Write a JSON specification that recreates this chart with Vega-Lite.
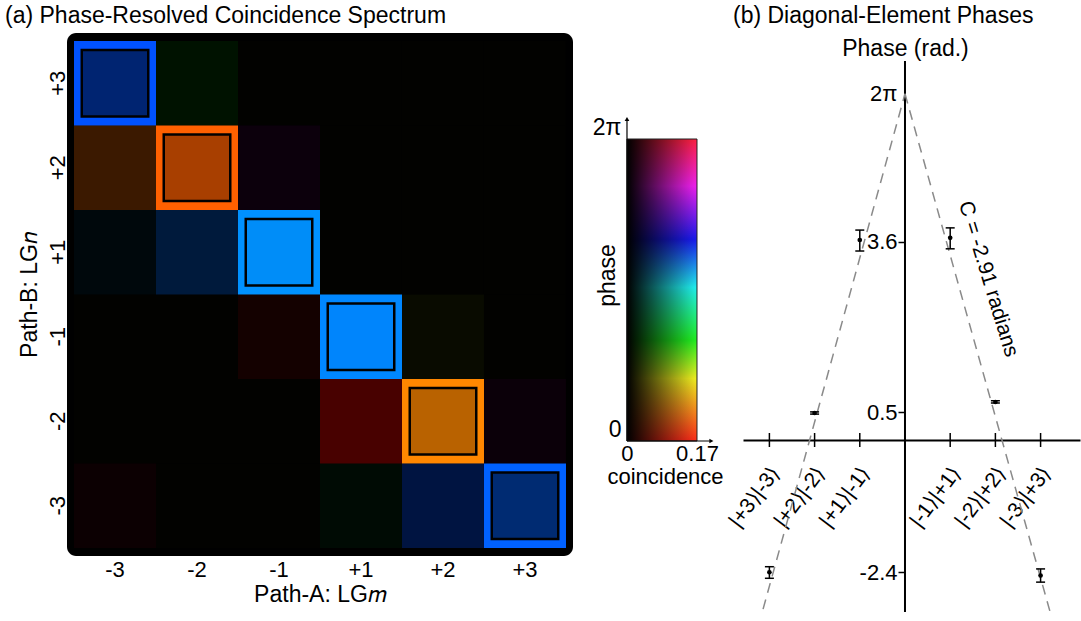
{
  "$schema": "https://vega.github.io/schema/vega-lite/v6.json",
  "background": "white",
  "padding": {"left": 5, "top": 5, "right": 1, "bottom": 2},
  "bounds": "flush",
  "spacing": 0,
  "config": {
    "font": "Liberation Sans",
    "view": {"stroke": null},
    "axis": {"grid": false, "labelColor": "black", "titleColor": "black", "labelFontWeight": "normal", "titleFontWeight": "normal"},
    "title": {"color": "black", "fontWeight": "normal", "fontSize": 23}
  },
  "datasets": {
    "cells": [
      {"m": -3, "n": 3, "phase": 3.88, "coinc": 0.075},
      {"m": -2, "n": 3, "phase": 2.1, "coinc": 0.012},
      {"m": -1, "n": 3, "phase": 1.0, "coinc": 0.001},
      {"m": 1, "n": 3, "phase": 1.0, "coinc": 0.001},
      {"m": 2, "n": 3, "phase": 1.0, "coinc": 0.001},
      {"m": 3, "n": 3, "phase": 1.0, "coinc": 0.001},
      {"m": -3, "n": 2, "phase": 0.54, "coinc": 0.039},
      {"m": -2, "n": 2, "phase": 0.49, "coinc": 0.112},
      {"m": -1, "n": 2, "phase": 5.3, "coinc": 0.008},
      {"m": 1, "n": 2, "phase": 1.0, "coinc": 0.001},
      {"m": 2, "n": 2, "phase": 1.0, "coinc": 0.001},
      {"m": 3, "n": 2, "phase": 1.0, "coinc": 0.001},
      {"m": -3, "n": 1, "phase": 3.53, "coinc": 0.008},
      {"m": -2, "n": 1, "phase": 3.77, "coinc": 0.04},
      {"m": -1, "n": 1, "phase": 3.63, "coinc": 0.165},
      {"m": 1, "n": 1, "phase": 1.0, "coinc": 0.001},
      {"m": 2, "n": 1, "phase": 1.0, "coinc": 0.001},
      {"m": 3, "n": 1, "phase": 1.0, "coinc": 0.001},
      {"m": -3, "n": -1, "phase": 1.0, "coinc": 0.001},
      {"m": -2, "n": -1, "phase": 1.0, "coinc": 0.001},
      {"m": -1, "n": -1, "phase": 0.05, "coinc": 0.013},
      {"m": 1, "n": -1, "phase": 3.67, "coinc": 0.168},
      {"m": 2, "n": -1, "phase": 1.46, "coinc": 0.007},
      {"m": 3, "n": -1, "phase": 1.0, "coinc": 0.001},
      {"m": -3, "n": -2, "phase": 1.0, "coinc": 0.001},
      {"m": -2, "n": -2, "phase": 1.0, "coinc": 0.001},
      {"m": -1, "n": -2, "phase": 1.0, "coinc": 0.001},
      {"m": 1, "n": -2, "phase": 0.02, "coinc": 0.048},
      {"m": 2, "n": -2, "phase": 0.69, "coinc": 0.123},
      {"m": 3, "n": -2, "phase": 5.5, "coinc": 0.007},
      {"m": -3, "n": -3, "phase": 6.1, "coinc": 0.008},
      {"m": -2, "n": -3, "phase": 1.0, "coinc": 0.001},
      {"m": -1, "n": -3, "phase": 1.0, "coinc": 0.001},
      {"m": 1, "n": -3, "phase": 2.54, "coinc": 0.007},
      {"m": 2, "n": -3, "phase": 3.89, "coinc": 0.043},
      {"m": 3, "n": -3, "phase": 3.82, "coinc": 0.076}
    ],
    "cbar": [{"c0": 0, "c1": 0.17, "p0": 0, "p1": 6.2832}],
    "phases": [
      {"kind": "line", "side": "L", "x": 0, "y": 6.2832},
      {"kind": "line", "side": "L", "x": -3.14, "y": -3.07},
      {"kind": "line", "side": "R", "x": 0, "y": 6.2832},
      {"kind": "line", "side": "R", "x": 3.21, "y": -3.12},
      {"kind": "pt", "x": -3, "y": -2.4, "lo": -2.51, "hi": -2.3},
      {"kind": "pt", "x": -2, "y": 0.49, "lo": 0.47, "hi": 0.51},
      {"kind": "pt", "x": -1, "y": 3.63, "lo": 3.43, "hi": 3.81},
      {"kind": "pt", "x": 1, "y": 3.67, "lo": 3.47, "hi": 3.85},
      {"kind": "pt", "x": 2, "y": 0.69, "lo": 0.67, "hi": 0.71},
      {"kind": "pt", "x": 3, "y": -2.46, "lo": -2.58, "hi": -2.34},
      {"kind": "label", "x": 1.84, "y": 2.92, "label": "C = -2.91 radians"}
    ]
  },
  "hconcat": [
    {
      "width": 506,
      "height": 523,
      "view": {"fill": "black", "stroke": null, "cornerRadius": 9},
      "title": {"text": "(a) Phase-Resolved Coincidence Spectrum", "anchor": "start", "frame": "group", "dx": -62, "offset": -18, "baseline": "bottom"},
      "data": {"name": "cells"},
      "encoding": {
        "x": {"field": "m", "type": "ordinal", "scale": {"paddingInner": 0, "paddingOuter": 0.0854},
          "axis": {"title": "Path-A: LG𝑚", "labelExpr": "datum.value > 0 ? '+' + datum.value : '' + datum.value", "labelAngle": 0, "domain": false, "ticks": false, "labelFontSize": 22, "labelPadding": 3, "titleFontSize": 23, "titlePadding": 3}},
        "y": {"field": "n", "type": "ordinal", "sort": "descending", "scale": {"paddingInner": 0, "paddingOuter": 0.0947},
          "axis": {"title": "Path-B: LG𝑛", "labelExpr": "datum.value > 0 ? '+' + datum.value : '' + datum.value", "labelAngle": 270, "labelAlign": "center", "labelBaseline": "alphabetic", "domain": false, "ticks": false, "labelFontSize": 22, "labelPadding": 3, "titleFontSize": 23, "titlePadding": 5}}
      },
      "layer": [
        {
          "mark": {"type": "rect"},
          "encoding": {
            "color": {"field": "phase", "type": "quantitative", "legend": null,
              "scale": {"type": "linear", "domain": [0, 1.3, 2.1, 3.2, 4.2, 5.3, 6.2832], "range": ["#ff0000", "#ffff00", "#00ff00", "#00ffff", "#0000ff", "#ff00ff", "#ff0000"], "interpolate": "rgb"}},
            "opacity": {"condition": {"test": "datum.m == -datum.n", "value": 1}, "field": "coinc", "type": "quantitative", "legend": null, "scale": {"domain": [0, 0.17], "range": [0, 1]}}
          }
        },
        {
          "transform": [{"filter": "datum.m == -datum.n"}],
          "mark": {"type": "point", "shape": "square", "filled": true, "color": "black", "size": 4761, "opacity": 1}
        },
        {
          "transform": [{"filter": "datum.m == -datum.n"}],
          "mark": {"type": "point", "shape": "square", "filled": true, "size": 4096},
          "encoding": {
            "color": {"field": "phase", "type": "quantitative", "legend": null,
              "scale": {"type": "linear", "domain": [0, 1.3, 2.1, 3.2, 4.2, 5.3, 6.2832], "range": ["#ff0000", "#ffff00", "#00ff00", "#00ffff", "#0000ff", "#ff00ff", "#ff0000"], "interpolate": "rgb"}},
            "opacity": {"field": "coinc", "type": "quantitative", "legend": null, "scale": {"domain": [0, 0.17], "range": [0, 1]}}
          }
        }
      ]
    },
    {
      "width": 170,
      "height": 408,
      "data": {"name": "cbar"},
      "encoding": {
        "x": {"field": "c0", "type": "quantitative", "scale": {"domain": [-0.1311, 0.2817], "nice": false, "zero": false},
          "axis": {"values": [0, 0.17], "labelExpr": "datum.value == 0 ? '0' : '0.17'", "domain": false, "ticks": false, "labelFontSize": 22, "labelPadding": 2, "labelFlush": false, "labelOverlap": false, "title": "coincidence", "titleFontSize": 22, "titlePadding": 2, "titleX": 92}},
        "y": {"field": "p0", "type": "quantitative", "scale": {"domain": [0, 8.489], "nice": false, "zero": false},
          "axis": {"values": [0, 6.2832], "labelExpr": "datum.value > 1 ? '2π' : '0'", "offset": -50, "domain": false, "ticks": false, "labelFontSize": 23, "labelPadding": 2, "labelBaseline": "bottom", "labelFlush": false, "labelOverlap": false, "title": "phase", "titleFontSize": 23, "titleX": -16, "titleY": 242, "titleAngle": 270, "titleAlign": "center", "titleBaseline": "middle"}}
      },
      "layer": [
        {
          "mark": {"type": "rect", "fill": {"gradient": "linear", "x1": 0, "y1": 1, "x2": 0, "y2": 0, "stops": [
            {"offset": 0, "color": "#ff2a1a"},
            {"offset": 0.207, "color": "#f0f020"},
            {"offset": 0.334, "color": "#20f020"},
            {"offset": 0.509, "color": "#20f0f0"},
            {"offset": 0.668, "color": "#1a1af0"},
            {"offset": 0.844, "color": "#f020f0"},
            {"offset": 1, "color": "#ff2040"}]}},
          "encoding": {"x2": {"field": "c1"}, "y2": {"field": "p1"}}
        },
        {
          "mark": {"type": "rect", "stroke": "#222222", "strokeWidth": 1, "fill": {"gradient": "linear", "x1": 0, "y1": 0, "x2": 1, "y2": 0, "stops": [
            {"offset": 0, "color": "rgba(0,0,0,1)"},
            {"offset": 1, "color": "rgba(0,0,0,0)"}]}},
          "encoding": {"x2": {"field": "c1"}, "y2": {"field": "p1"}}
        },
        {
          "mark": {"type": "rule", "color": "black", "strokeWidth": 1.2},
          "encoding": {"x": {"datum": 0}, "y": {"datum": 0}, "y2": {"datum": 6.7}}
        },
        {
          "mark": {"type": "rule", "color": "black", "strokeWidth": 1.2},
          "encoding": {"x": {"datum": 0}, "x2": {"datum": 0.205}, "y": {"datum": 0}}
        },
        {
          "mark": {"type": "point", "shape": "triangle-up", "filled": true, "color": "black", "size": 22, "opacity": 1},
          "encoding": {"x": {"datum": 0}, "y": {"datum": 6.7}}
        },
        {
          "mark": {"type": "point", "shape": "triangle-right", "filled": true, "color": "black", "size": 22, "opacity": 1},
          "encoding": {"x": {"datum": 0.205}, "y": {"datum": 0}}
        }
      ]
    },
    {
      "width": 337,
      "height": 579,
      "title": {"text": "(b) Diagonal-Element Phases", "anchor": "start", "frame": "group", "dx": -10, "offset": -18, "baseline": "bottom"},
      "data": {"name": "phases"},
      "encoding": {
        "x": {"field": "x", "type": "quantitative", "scale": {"domain": [-3.584, 3.872], "nice": false, "zero": false},
          "axis": {"orient": "bottom", "offset": -172, "values": [-3, -2, -1, 1, 2, 3],
            "labelExpr": "datum.value == -3 ? '|+3⟩|-3⟩' : datum.value == -2 ? '|+2⟩|-2⟩' : datum.value == -1 ? '|+1⟩|-1⟩' : datum.value == 1 ? '|-1⟩|+1⟩' : datum.value == 2 ? '|-2⟩|+2⟩' : '|-3⟩|+3⟩'",
            "labelAngle": -53, "labelAlign": "right", "labelBaseline": "middle", "labelPadding": 29, "labelOffset": 6, "labelFontSize": 21, "labelOverlap": false, "labelFlush": false,
            "ticks": false, "domain": true, "domainColor": "black", "domainWidth": 2, "title": null}},
        "y": {"field": "y", "type": "quantitative", "scale": {"domain": [-3.122, 7.387], "nice": false, "zero": false},
          "axis": {"orient": "left", "offset": -162, "values": [-2.4, 0.5, 3.6, 6.2832],
            "labelExpr": "datum.value > 6 ? '2π' : datum.value > 3 ? '3.6' : datum.value > 0 ? '0.5' : '-2.4'",
            "domain": false, "ticks": true, "tickSize": 7, "tickColor": "black", "tickWidth": 1.5,
            "tickOpacity": {"condition": {"test": "datum.value > 6", "value": 0}, "value": 1},
            "labelFontSize": 22, "labelPadding": 1, "labelOverlap": false, "labelFlush": false,
            "title": "Phase (rad.)", "titleAngle": 0, "titleAlign": "center", "titleBaseline": "middle", "titleX": 0, "titleY": 15, "titleFontSize": 23}}
      },
      "layer": [
        {
          "transform": [{"filter": "datum.kind == 'label'"}],
          "mark": {"type": "rule", "color": "black", "strokeWidth": 2},
          "encoding": {"x": {"datum": 0}, "y": {"datum": -3.122}, "y2": {"datum": 6.88}}
        },
        {
          "transform": [{"filter": "datum.kind == 'line'"}],
          "mark": {"type": "line", "color": "#8a8a8a", "strokeWidth": 1.5, "strokeDash": [10, 7]},
          "encoding": {"detail": {"field": "side", "type": "nominal"}}
        },
        {
          "transform": [{"filter": "datum.kind == 'pt'"}],
          "mark": {"type": "tick", "orient": "vertical", "color": "black", "size": 14, "thickness": 1.5, "opacity": 1},
          "encoding": {"y": {"datum": 0}}
        },
        {
          "transform": [{"filter": "datum.kind == 'pt'"}],
          "mark": {"type": "rule", "color": "black", "strokeWidth": 1.5},
          "encoding": {"y": {"field": "lo", "type": "quantitative"}, "y2": {"field": "hi"}}
        },
        {
          "transform": [{"filter": "datum.kind == 'pt'"}],
          "mark": {"type": "tick", "orient": "horizontal", "color": "black", "size": 9, "thickness": 1.5, "opacity": 1},
          "encoding": {"y": {"field": "lo", "type": "quantitative"}}
        },
        {
          "transform": [{"filter": "datum.kind == 'pt'"}],
          "mark": {"type": "tick", "orient": "horizontal", "color": "black", "size": 9, "thickness": 1.5, "opacity": 1},
          "encoding": {"y": {"field": "hi", "type": "quantitative"}}
        },
        {
          "transform": [{"filter": "datum.kind == 'pt'"}],
          "mark": {"type": "point", "filled": true, "color": "black", "size": 22, "opacity": 1}
        },
        {
          "transform": [{"filter": "datum.kind == 'label'"}],
          "mark": {"type": "text", "angle": 73, "fontSize": 21, "align": "center", "baseline": "middle", "color": "black"},
          "encoding": {"text": {"field": "label"}}
        }
      ]
    }
  ]
}
